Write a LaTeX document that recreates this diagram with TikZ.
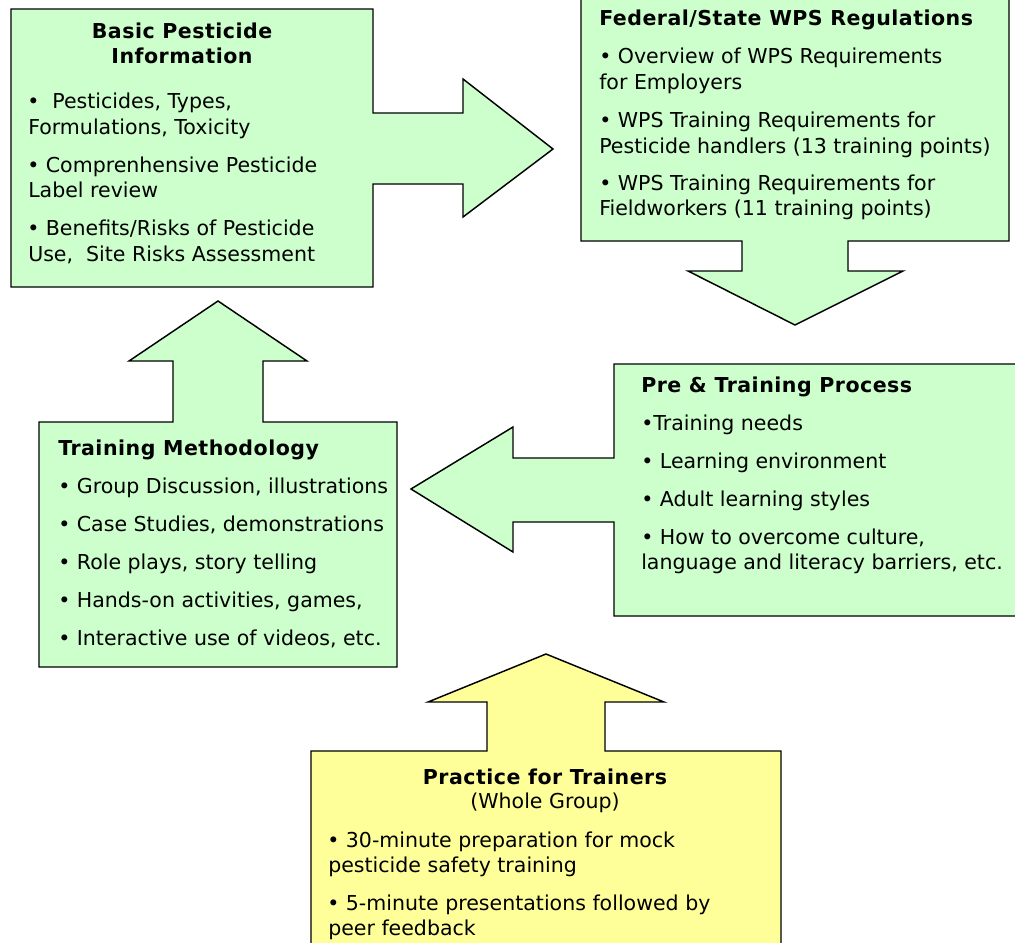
\documentclass[tikz,border=0pt]{standalone}
\usepackage{fontspec}
\setmainfont{DejaVu Sans}
\newfontfamily\ttlfont{DejaVu Sans}[LetterSpace=2.4]
\definecolor{boxgreen}{HTML}{CCFFCC}
\definecolor{boxyellow}{HTML}{FFFF99}
\tikzset{
  calloutshape/.style={draw=black, line width=1.1pt, line join=miter},
  txt/.style={inner sep=0pt, anchor=base west, font=\fontsize{15.4pt}{19.5pt}\selectfont},
  ttl/.style={txt, font=\ttlfont\fontsize{15.4pt}{19.5pt}\selectfont\bfseries},
  ctitle/.style={ttl, anchor=base},
  ctxt/.style={txt, anchor=base}
}
\begin{document}
\begin{tikzpicture}[x=0.75pt, y=-0.75pt]
\path[use as bounding box] (0,0) rectangle (1015,943);
\clip (0,0) rectangle (1015,943);

% Shape 1: Basic Pesticide Information with right arrow
\path[calloutshape, fill=boxgreen] (11,9) -- (373,9) -- (373,113) -- (463,113) -- (463,79) -- (553,149) -- (463,217) -- (463,184) -- (373,184) -- (373,287) -- (11,287) -- cycle;
% Shape 2: Federal/State with down arrow
\path[calloutshape, fill=boxgreen] (581,-5) -- (1009,-5) -- (1009,241) -- (848,241) -- (848,271) -- (903,271) -- (795,325) -- (688,271) -- (742,271) -- (742,241) -- (581,241) -- cycle;
% Shape 3: Pre & Training Process with left arrow
\path[calloutshape, fill=boxgreen] (614,364) -- (1017,364) -- (1017,616) -- (614,616) -- (614,522) -- (513,522) -- (513,552) -- (411,489) -- (513,427) -- (513,458) -- (614,458) -- cycle;
% Shape 4: Training Methodology with up arrow
\path[calloutshape, fill=boxgreen] (39,422) -- (173,422) -- (173,361) -- (129,361) -- (218,301) -- (307,361) -- (263,361) -- (263,422) -- (397,422) -- (397,667) -- (39,667) -- cycle;
% Shape 5: Practice for Trainers with up arrow
\path[calloutshape, fill=boxyellow] (311,751) -- (487,751) -- (487,702) -- (428,702) -- (546,654) -- (664,702) -- (605,702) -- (605,751) -- (781,751) -- (781,955) -- (311,955) -- cycle;

% Box 1 text
\node[ctitle] (b1t1) at (182,38) {Basic Pesticide};
\node[ctitle] (b1t2) at (182,63) {Information};
\node[txt] (b1l1) at (27,108) {•\ \ Pesticides, Types,};
\node[txt] (b1l2) at (28,134) {Formulations, Toxicity};
\node[txt] (b1l3) at (27,172) {• Comprenhensive Pesticide};
\node[txt] (b1l4) at (28,197) {Label review};
\node[txt] (b1l5) at (27,235) {• Benefits/Risks of Pesticide};
\node[txt] (b1l6) at (28,261) {Use,\ \ Site Risks Assessment};

% Box 2 text
\node[ttl] (b2t) at (599,25) {Federal/State WPS Regulations};
\node[txt] (b2l1) at (599,63) {• Overview of WPS Requirements};
\node[txt] (b2l2) at (599,89) {for Employers};
\node[txt] (b2l3) at (599,127) {• WPS Training Requirements for};
\node[txt] (b2l4) at (599,153) {Pesticide handlers (13 training points)};
\node[txt] (b2l5) at (599,190) {• WPS Training Requirements for};
\node[txt] (b2l6) at (599,215) {Fieldworkers (11 training points)};

% Box 3 text
\node[ttl] (b3t) at (641,392) {Pre \& Training Process};
\node[txt] (b3l1) at (641,430) {•Training needs};
\node[txt] (b3l2) at (641,468) {• Learning environment};
\node[txt] (b3l3) at (641,506) {• Adult learning styles};
\node[txt] (b3l4) at (641,544) {• How to overcome culture,};
\node[txt] (b3l5) at (641,569) {language and literacy barriers, etc.};

% Box 4 text
\node[ttl] (b4t) at (58,455) {Training Methodology};
\node[txt] (b4l1) at (58,493) {• Group Discussion, illustrations};
\node[txt] (b4l2) at (58,531) {• Case Studies, demonstrations};
\node[txt] (b4l3) at (58,569) {• Role plays, story telling};
\node[txt] (b4l4) at (58,607) {• Hands-on activities, games,};
\node[txt] (b4l5) at (58,645) {• Interactive use of videos, etc.};

% Box 5 text
\node[ctitle] (b5t) at (545,784) {Practice for Trainers};
\node[ctxt] (b5s) at (545,808) {(Whole Group)};
\node[txt] (b5l1) at (327,847) {• 30-minute preparation for mock};
\node[txt] (b5l2) at (328,872) {pesticide safety training};
\node[txt] (b5l3) at (327,910) {• 5-minute presentations followed by};
\node[txt] (b5l4) at (328,935) {peer feedback};
\end{tikzpicture}
\end{document}
